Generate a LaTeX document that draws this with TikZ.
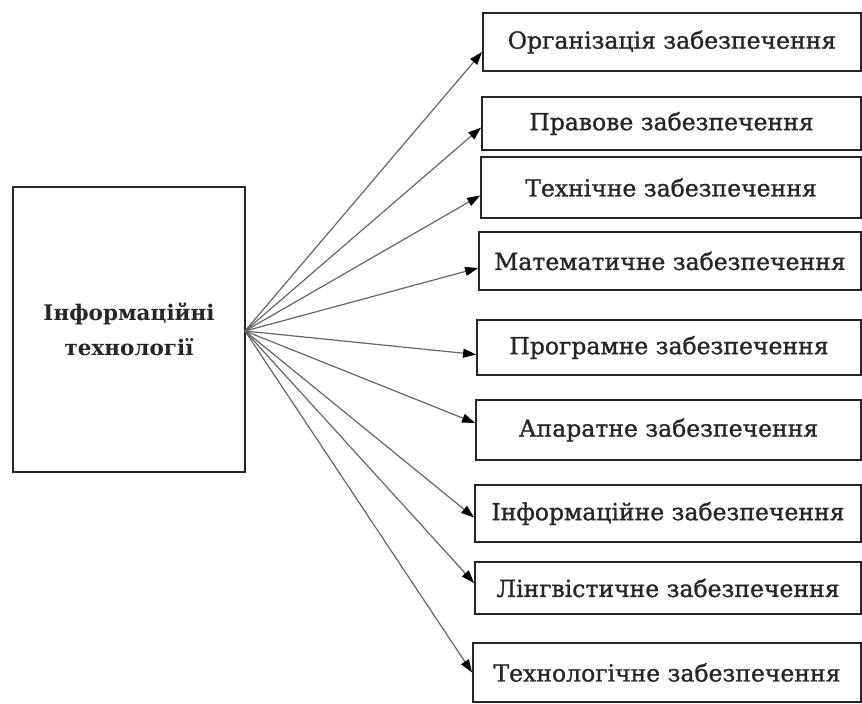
\documentclass[tikz,border=0pt]{standalone}
\usepackage{fontspec}
\setmainfont{DejaVu Serif}
\newfontfamily\boxfont{DejaVu Serif}[FakeBold=1.2]
\usetikzlibrary{arrows.meta}
\begin{document}
\begin{tikzpicture}[x=1pt,y=-1pt,
  rbox/.style={draw=black!85, line width=1.8pt, inner sep=0pt,
    font=\boxfont\fontsize{23.5}{28}\selectfont, text=black!85},
  lbox/.style={draw=black!85, line width=1.8pt, inner sep=0pt, align=center,
    font=\bfseries\fontsize{21.5}{35}\selectfont, text=black!85},
  arr/.style={draw=black!60, line width=1.2pt,
    -{Triangle[length=13pt,width=9pt,color=black]}}
]
\useasboundingbox (0,0) rectangle (862,704);
\node[lbox, minimum width=232pt, minimum height=285pt] (lb) at (129,329.5)
  {Інформаційні\\технології};
\coordinate (src) at (245,331);
\node[rbox, minimum width=378pt, minimum height=58pt] (b1) at (672,42) {Організація забезпечення};
\node[rbox, minimum width=379pt, minimum height=53pt] (b2) at (671.5,123.5) {Правове забезпечення};
\node[rbox, minimum width=380pt, minimum height=61pt] (b3) at (671,187.5) {Технічне забезпечення};
\node[rbox, minimum width=382pt, minimum height=58pt] (b4) at (670,261) {Математичне забезпечення};
\node[rbox, minimum width=384pt, minimum height=55pt] (b5) at (669,347.5) {Програмне забезпечення};
\node[rbox, minimum width=385pt, minimum height=60pt] (b6) at (668.5,430) {Апаратне забезпечення};
\node[rbox, minimum width=386pt, minimum height=57pt] (b7) at (668,513.5) {Інформаційне забезпечення};
\node[rbox, minimum width=386pt, minimum height=52pt] (b8) at (668,588) {Лінгвістичне забезпечення};
\node[rbox, minimum width=388pt, minimum height=59pt] (b9) at (667,672.5) {Технологічне забезпечення};
\draw[arr] (src) -- ([yshift=-10pt]b1.west);
\draw[arr] (src) -- ([yshift=-4pt]b2.west);
\draw[arr] (src) -- ([yshift=-8pt]b3.west);
\draw[arr] (src) -- ([yshift=-7pt]b4.west);
\draw[arr] (src) -- ([yshift=-7pt]b5.west);
\draw[arr] (src) -- ([yshift=7pt]b6.west);
\draw[arr] (src) -- ([yshift=-4pt]b7.west);
\draw[arr] (src) -- ([yshift=5pt]b8.west);
\draw[arr] (src) -- (b9.west);
\end{tikzpicture}
\end{document}
